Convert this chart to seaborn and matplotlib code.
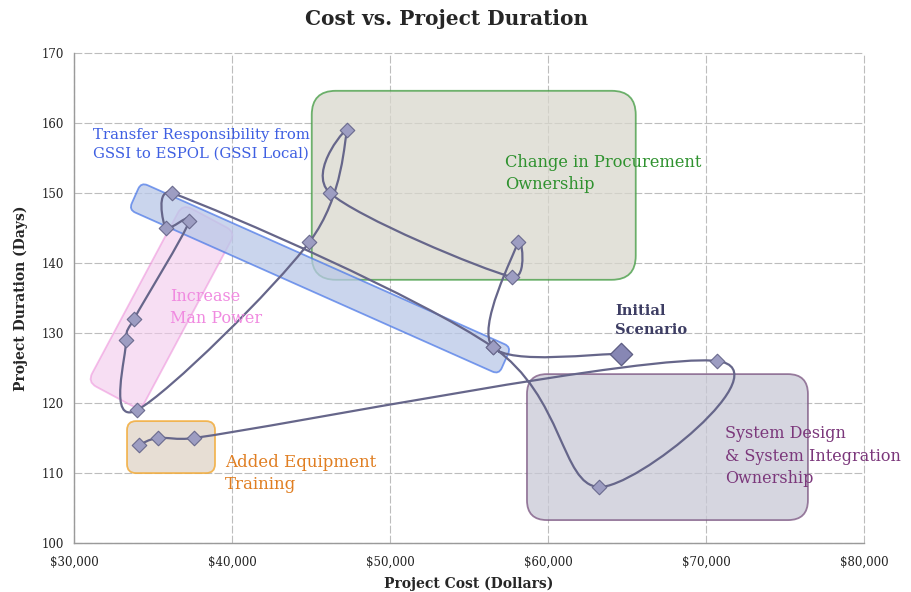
"""
Cost vs. Project Duration - scenario path with annotated groupings
"""

import numpy as np
import pandas as pd
import matplotlib
matplotlib.use('Agg')
import matplotlib.pyplot as plt
import seaborn as sns
from matplotlib.path import Path
from matplotlib.patches import PathPatch, FancyBboxPatch
from matplotlib.transforms import Affine2D
from matplotlib.ticker import MultipleLocator, FuncFormatter

# Scenario path (in the order the line visits the points)
cost = [64600, 56500, 58100, 57700, 46200, 47300, 44900, 34000, 33300, 33800,
        37300, 35800, 36200, 56500, 63200, 70700, 37600, 35300, 34100]
days = [127, 128, 143, 138, 150, 159, 143, 119, 129, 132,
        146, 145, 150, 128, 108, 126, 115, 115, 114]
scenario = ['Initial'] + ['Change'] * (len(cost) - 1)

x_ticks = [30000, 40000, 50000, 60000, 70000, 80000]
y_ticks = [100, 110, 120, 130, 140, 150, 160, 170]

df = pd.DataFrame({'cost': cost, 'days': days, 'scenario': scenario})

sns.set_style('white')
plt.rcParams['font.family'] = ['DejaVu Serif', 'DejaVu Sans']

fig = plt.figure(figsize=(9.11, 5.92), dpi=100)
ax = fig.add_axes([74 / 911, 1 - 543 / 592, 790 / 911, 490 / 592])
ax.set_xlim(x_ticks[0], x_ticks[-1])
ax.set_ylim(y_ticks[0], y_ticks[-1])

# grid and axes
ax.set_xticks(x_ticks)
ax.set_yticks(y_ticks)
ax.yaxis.set_minor_locator(MultipleLocator(1))
ax.xaxis.set_major_formatter(FuncFormatter(lambda v, p: f'${v:,.0f}'))
ax.grid(True, color='#bdbdbd', linestyle=(0, (7, 2)), linewidth=0.8, clip_on=False)
ax.set_axisbelow(True)
for side in ['top', 'right']:
    ax.spines[side].set_visible(False)
for side in ['left', 'bottom']:
    ax.spines[side].set_color('#9a9a9a')
    ax.spines[side].set_linewidth(1.0)
ax.tick_params(axis='both', which='major', direction='inout', length=6, color='#9a9a9a',
               labelsize=8.5, labelcolor='#222222')
ax.tick_params(axis='y', which='minor', direction='in', length=2, color='#bbbbbb', width=0.6)
ax.tick_params(axis='x', pad=6)
ax.tick_params(axis='y', pad=4)

fig.suptitle('Cost vs. Project Duration', x=0.49, y=0.985, fontsize=14.5, fontweight='bold')


def note_box(x, y, w, h, angle, radius, face, edge, alpha):
    # rounded box anchored at a data point, sized in pixels
    px, py = ax.transData.transform((x, y))
    box = FancyBboxPatch((px - w / 2, py - h / 2), w, h,
                         boxstyle=f'round,pad=0,rounding_size={radius}',
                         transform=Affine2D().rotate_deg_around(px, py, angle),
                         facecolor=face, edgecolor=edge, alpha=alpha, linewidth=1.3, zorder=2)
    ax.add_patch(box)


note_box(55300, 151.1, 324, 189, 0, 24, '#d9d7cd', '#3f9a3f', 0.75)
note_box(35540, 133.7, 202, 60, 61.9, 10, '#f3c9ec', '#ee95dc', 0.6)
note_box(45570, 137.8, 405, 30, -24.0, 7, '#b9c8e8', '#4f7be8', 0.75)
note_box(36140, 113.7, 88, 52, 0, 9, '#e3d9cd', '#f2ac3c', 0.85)
note_box(67560, 113.7, 281, 146, 0, 20, '#c9c9d6', '#7a5480', 0.75)


def smooth_path(xs, ys):
    # Excel-style smoothed line: Catmull-Rom through the points in screen space,
    # with each control arm kept within half of its segment
    pts = ax.transData.transform(np.column_stack([xs, ys]))
    n = len(pts)
    verts = [pts[0]]
    codes = [Path.MOVETO]

    def arm(v, limit):
        L = np.hypot(*v)
        return v if L <= limit or L == 0 else v * limit / L

    for i in range(n - 1):
        p0, p1 = pts[max(i - 1, 0)], pts[i]
        p2, p3 = pts[i + 1], pts[min(i + 2, n - 1)]
        d12 = np.hypot(*(p2 - p1))
        c1 = p1 + arm((p2 - p0) / 6, 0.5 * d12)
        c2 = p2 - arm((p3 - p1) / 6, 0.5 * d12)
        verts += [c1, c2, p2]
        codes += [Path.CURVE4] * 3
    return Path(ax.transData.inverted().transform(np.array(verts)), codes)


ax.add_patch(PathPatch(smooth_path(df['cost'], df['days']), facecolor='none',
                       edgecolor='#66668a', linewidth=1.6, zorder=3))

sns.scatterplot(data=df[df['scenario'] == 'Change'], x='cost', y='days', marker='D', s=55,
                color='#9d9dc2', edgecolor='#6a6a8e', linewidth=0.8, ax=ax, zorder=4, legend=False)
sns.scatterplot(data=df[df['scenario'] == 'Initial'], x='cost', y='days', marker='D', s=130,
                color='#8787b4', edgecolor='#5d5d82', linewidth=0.9, ax=ax, zorder=4, legend=False)
ax.set_xlabel('Project Cost (Dollars)', fontsize=10, fontweight='bold', labelpad=6)
ax.set_ylabel('Project Duration (Days)', fontsize=10, fontweight='bold', labelpad=10)

notes = [
    (31200, 159.3, 'Transfer Responsibility from\nGSSI to ESPOL (GSSI Local)', '#3e5fe2', 10.7, 'normal'),
    (57300, 155.6, 'Change in Procurement\nOwnership', '#2f922f', 11.7, 'normal'),
    (36080, 136.4, 'Increase\nMan Power', '#f08ae0', 11.5, 'normal'),
    (64250, 134.1, 'Initial\nScenario', '#3d3d63', 10.5, 'bold'),
    (39560, 112.7, 'Added Equipment\nTraining', '#e07e22', 12, 'normal'),
    (71200, 116.8, 'System Design\n& System Integration\nOwnership', '#7b377b', 11.5, 'normal'),
]
for nx, ny, label, col, fs, fw in notes:
    ax.text(nx, ny, label, color=col, fontsize=fs, fontweight=fw, ha='left', va='top',
            linespacing=1.4, zorder=5)

plt.savefig('out.png', dpi=100)
plt.close()
